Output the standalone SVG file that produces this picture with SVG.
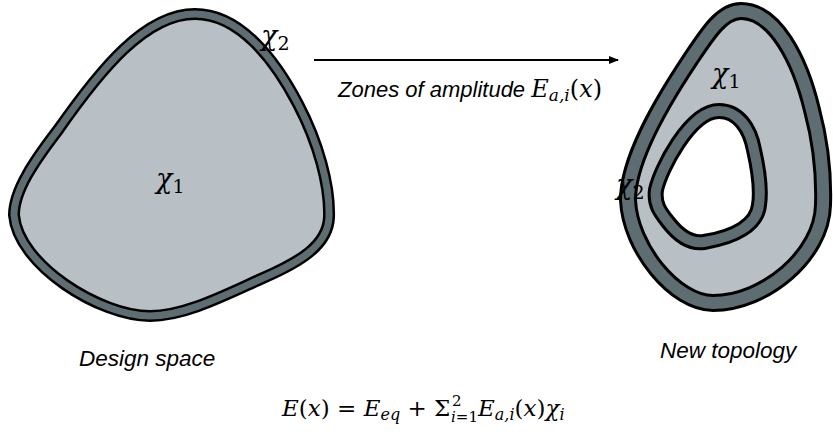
<svg xmlns="http://www.w3.org/2000/svg" width="833" height="432" viewBox="0 0 833 432">
<defs>
<style>
.edge{fill:none;stroke:#000}
.band{fill:none;stroke:#5e6d72}
.fill{fill:#b9c0c5;stroke:none}
.hole{fill:#ffffff;stroke:none}
.lbl{font-family:"Liberation Sans",Arial,sans-serif;font-style:italic;fill:#000}
.math{font-family:"DejaVu Serif","Liberation Serif",serif;font-style:italic;fill:#000}
.up{font-style:normal}
</style>
<marker id="ah" viewBox="0 0 10 8" refX="9" refY="4" markerWidth="10" markerHeight="8" markerUnits="userSpaceOnUse" orient="auto">
<path d="M0,0 L10,4 L0,8 Z" fill="#000"/>
</marker>
<path id="leftShape" d="M195,14 C240,14 275,60 298,104 C318,142 330,185 329,217 C328,245 300,262 263,278 C225,295 185,316 150,316 C100,316 18,265 14,215 C14,190 35,160 58,130 C100,70 145,14 195,14 Z"/>
<path id="rightShape" d="M741,11 C775,11 800,60 812,110 C820,140 824,175 823,205 C822,255 765,303 713,303 C675,303 630,248 628,200 C628,160 660,105 690,60 C708,33 722,11 741,11 Z"/>
<path id="holeShape" d="M719,111 C738,111 750,128 754,150 C759,172 761,192 759,205 C757,225 735,237 704,242 C690,244 678,235 668,222 C660,212 654,204 656,190 C660,170 690,111 719,111 Z"/>
</defs>
<g id="design-space">
<use href="#leftShape" class="fill"/>
<use href="#leftShape" class="edge" stroke-width="12"/>
<use href="#leftShape" class="band" stroke-width="7"/>
<text class="math" x="156" y="188" font-size="27">χ<tspan class="up" font-size="19" dy="5">1</tspan></text>
<text class="math" x="261" y="45" font-size="27">χ<tspan class="up" font-size="19" dy="5">2</tspan></text>
<text class="lbl" x="79" y="366" font-size="22.5">Design space</text>
</g>
<g id="new-topology">
<use href="#rightShape" class="fill"/>
<use href="#rightShape" class="edge" stroke-width="18"/>
<use href="#rightShape" class="band" stroke-width="12"/>
<use href="#holeShape" class="hole"/>
<use href="#holeShape" class="edge" stroke-width="16"/>
<use href="#holeShape" class="band" stroke-width="10"/>
<text class="math" x="712" y="83" font-size="27">χ<tspan class="up" font-size="19" dy="5">1</tspan></text>
<text class="math" x="616" y="194" font-size="27">χ<tspan class="up" font-size="19" dy="5">2</tspan></text>
<text class="lbl" x="660" y="358" font-size="22.5">New topology</text>
</g>
<g id="connectors">
<line x1="314" y1="60" x2="618" y2="60" stroke="#000" stroke-width="2" marker-end="url(#ah)"/>
<text class="lbl" x="338" y="97" font-size="22">Zones of amplitude <tspan class="math" font-size="24">E</tspan><tspan class="math" font-size="17" dy="4">a,i</tspan><tspan class="math up" font-size="24" dy="-4">(</tspan><tspan class="math" font-size="24">x</tspan><tspan class="math up" font-size="24">)</tspan></text>
</g>
<g id="formula">
<text class="math" x="282" y="416" font-size="23">E<tspan class="up">(</tspan>x<tspan class="up">) = </tspan>E<tspan font-size="16" dy="4">eq</tspan><tspan class="up" dy="-4"> + Σ</tspan></text>
<text class="math up" x="452" y="406" font-size="15">2</text>
<text class="math" x="451" y="422" font-size="15">i<tspan class="up">=1</tspan></text>
<text class="math" x="478" y="416" font-size="23">E<tspan font-size="16" dy="4">a,i</tspan><tspan class="up" dy="-4">(</tspan>x<tspan class="up">)</tspan>χ<tspan font-size="16" dy="4">i</tspan></text>
</g>
</svg>
